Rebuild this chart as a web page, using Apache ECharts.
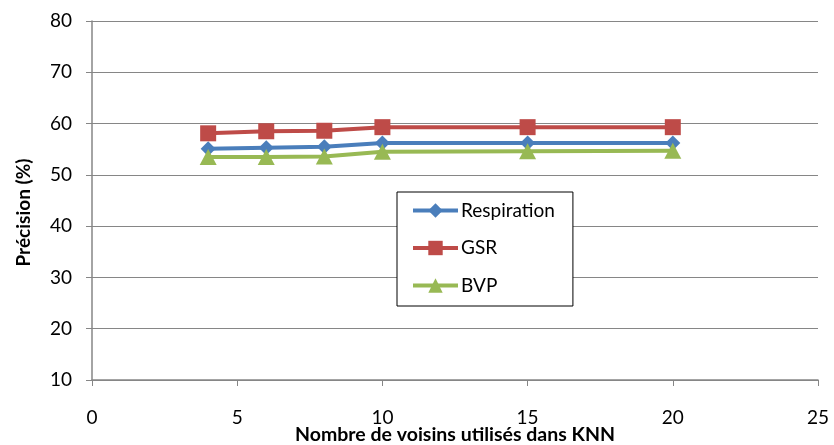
<!DOCTYPE html>
<html>
<head>
<meta charset="utf-8">
<script src="https://cdn.jsdelivr.net/npm/echarts@6/dist/echarts.min.js"></script>
<style>
  html, body { margin: 0; padding: 0; background: #fff; }
  #chart { width: 834px; height: 445px; }
</style>
</head>
<body>
<div id="chart"></div>
<script>
// Number of neighbours k used by the KNN classifier
const neighbours = [4, 6, 8, 10, 15, 20];

// Accuracy (%) per physiological signal
const respiration = [55.1, 55.3, 55.5, 56.2, 56.2, 56.2];
const gsr = [58.1, 58.5, 58.6, 59.3, 59.3, 59.3];
const bvp = [53.5, 53.5, 53.6, 54.5, 54.6, 54.7];

const seriesNames = ['Respiration', 'GSR', 'BVP'];

const FONT = 'Lato';
const GREY = '#868686';

const pair = (ys) => neighbours.map((x, i) => [x, ys[i]]);

const chart = echarts.init(document.getElementById('chart'), null, { renderer: 'canvas' });

function lineSeries(name, ys, color, symbol, size) {
  return {
    name: name,
    type: 'line',
    data: pair(ys),
    symbol: symbol,
    symbolSize: size,
    showAllSymbol: true,
    lineStyle: { color: color, width: 4 },
    itemStyle: { color: color, borderWidth: 0 },
    emphasis: { disabled: true },
    animation: false,
    z: 3
  };
}

chart.setOption({
  animation: false,
  textStyle: { fontFamily: FONT },
  grid: { left: 92, right: 16, top: 21, bottom: 65, containLabel: false, outerBoundsMode: 'none' },
  legend: {
    orient: 'vertical',
    left: 397,
    top: 192,
    padding: [9, 18, 11, 14],
    itemWidth: 45,
    itemHeight: 18,
    itemGap: 18.5,
    borderColor: '#000',
    borderWidth: 1,
    backgroundColor: '#fff',
    lineStyle: { width: 4 },
    textStyle: { fontFamily: FONT, fontSize: 19, color: '#000', padding: [0, 0, 0, -2] },
    data: seriesNames
  },
  xAxis: {
    type: 'value',
    min: 0,
    max: 25,
    interval: 5,
    name: 'Nombre de voisins utilisés dans KNN',
    nameLocation: 'middle',
    nameGap: 45,
    nameMoveOverlap: false,
    nameTextStyle: { fontFamily: FONT, fontSize: 19.5, fontWeight: 'bold', color: '#000' },
    axisLine: { show: true, lineStyle: { color: GREY, width: 1.5 } },
    axisTick: { show: true, length: 6, lineStyle: { color: GREY, width: 1 } },
    axisLabel: { margin: 28, fontFamily: FONT, fontSize: 19, color: '#000' },
    splitLine: { show: false }
  },
  yAxis: {
    type: 'value',
    min: 10,
    max: 80,
    interval: 10,
    name: 'Précision (%)',
    nameLocation: 'middle',
    nameGap: 59,
    nameRotate: 90,
    nameMoveOverlap: false,
    nameTextStyle: { fontFamily: FONT, fontSize: 19, fontWeight: 'bold', color: '#000', padding: [0, 24, 0, 0] },
    axisLine: { show: true, lineStyle: { color: GREY, width: 1.5 } },
    axisTick: { show: true, inside: false, length: 6, lineStyle: { color: GREY, width: 1 } },
    axisLabel: { margin: 20, fontFamily: FONT, fontSize: 19, color: '#000' },
    splitLine: { show: true, lineStyle: { color: GREY, width: 1 } }
  },
  series: [
    lineSeries(seriesNames[0], respiration, '#4A7EBB', 'diamond', [15, 15]),
    lineSeries(seriesNames[1], gsr, '#BE4B48', 'rect', [16, 16]),
    lineSeries(seriesNames[2], bvp, '#98B954', 'triangle', [17, 16])
  ]
});
</script>
</body>
</html>
